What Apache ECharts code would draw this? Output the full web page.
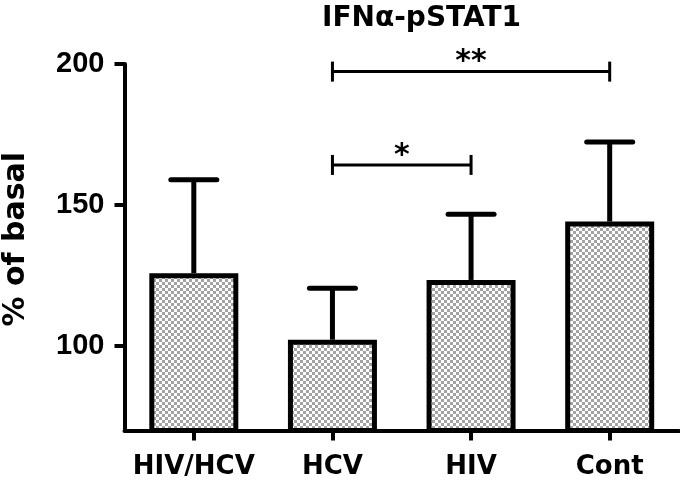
<!DOCTYPE html>
<html>
<head>
<meta charset="utf-8">
<script src="https://cdn.jsdelivr.net/npm/echarts@6/dist/echarts.min.js"></script>
<style>
html,body{margin:0;padding:0;background:#fff;}
#chart{width:680px;height:481px;}
</style>
</head>
<body>
<div id="chart"></div>
<script>
const categories = ['HIV/HCV', 'HCV', 'HIV', 'Cont'];
const means = [125.8, 102.2, 123.4, 144.1];
const upperErr = [158.9, 120.5, 146.7, 172.3];
const yTickValues = [100, 150, 200];
const sigFrom = [1, 1];
const sigTo = [3, 2];
const sigLevels = [197.3, 164.2];
const sigLabels = ['**', '*'];

// checkerboard pattern
const pat = document.createElement('canvas');
pat.width = 6; pat.height = 6;
const pc = pat.getContext('2d');
pc.fillStyle = '#ffffff'; pc.fillRect(0, 0, 6, 6);
pc.fillStyle = '#a3a3a3'; pc.fillRect(0, 0, 3, 3); pc.fillRect(3, 3, 3, 3);

const wideFont = '"DejaVu Sans", Arial, sans-serif';
const armFont = '"Liberation Sans", Arial, sans-serif';

const chart = echarts.init(document.getElementById('chart'), null, {renderer: 'canvas'});
chart.setOption({
  animation: false,
  backgroundColor: '#fff',
  title: {
    text: 'IFNα-pSTAT1',
    left: 317, top: 0,
    textStyle: {fontFamily: wideFont, fontWeight: 'bold', fontSize: 28, color: '#000'}
  },
  grid: {left: 124.5, right: 1, top: 64, bottom: 50.5, containLabel: false, outerBoundsMode: 'none'},
  xAxis: {
    type: 'category',
    data: categories,
    axisLine: {show: true, lineStyle: {color: '#000', width: 4}},
    axisTick: {show: true, alignWithLabel: true, interval: 0, length: 10, lineStyle: {color: '#000', width: 4}},
    axisLabel: {interval: 0, hideOverlap: false, margin: 24, color: '#000', fontFamily: wideFont, fontWeight: 'bold', fontSize: 26},
    splitLine: {show: false}
  },
  yAxis: {
    type: 'value',
    min: 70, max: 200, interval: 10,
    name: '% of basal',
    nameLocation: 'middle',
    nameGap: 93,
    nameRotate: 90,
    nameTextStyle: {color: '#000', fontFamily: wideFont, fontWeight: 'bold', fontSize: 30, padding: [0, 0, 0, 16]},
    axisLine: {show: true, lineStyle: {color: '#000', width: 4}},
    axisTick: {show: true, length: 10, customValues: yTickValues, lineStyle: {color: '#000', width: 4}},
    axisLabel: {margin: 20, customValues: yTickValues, color: '#000', fontFamily: armFont, fontWeight: 'bold', fontSize: 29},
    splitLine: {show: false}
  },
  series: [
    {
      type: 'bar',
      data: means,
      barWidth: 89,
      itemStyle: {color: {image: pat, repeat: 'repeat'}, borderColor: '#000', borderWidth: 5},
      z: 2
    },
    {
      type: 'custom',
      z: 3,
      data: categories.map((c, i) => [i, means[i], upperErr[i]]),
      encode: {x: 0, y: [1, 2]},
      renderItem: function (params, api) {
        const x = api.value(0);
        const p0 = api.coord([x, api.value(1)]);
        const p1 = api.coord([x, api.value(2)]);
        return {
          type: 'group',
          children: [
            {type: 'line', shape: {x1: p0[0], y1: p0[1], x2: p1[0], y2: p1[1]}, style: {stroke: '#000', lineWidth: 5}},
            {type: 'line', shape: {x1: p1[0] - 23, y1: p1[1], x2: p1[0] + 23, y2: p1[1]}, style: {stroke: '#000', lineWidth: 5, lineCap: 'round'}}
          ]
        };
      }
    },
    {
      type: 'custom',
      z: 4,
      clip: false,
      data: sigFrom.map((f, i) => [f, sigTo[i], sigLevels[i]]),
      encode: {x: [0, 1], y: 2},
      renderItem: function (params, api) {
        const a = api.coord([api.value(0), api.value(2)]);
        const b = api.coord([api.value(1), api.value(2)]);
        const y = a[1];
        const mid = (a[0] + b[0]) / 2;
        return {
          type: 'group',
          children: [
            {type: 'line', shape: {x1: a[0], y1: y, x2: b[0], y2: y}, style: {stroke: '#000', lineWidth: 3}},
            {type: 'line', shape: {x1: a[0], y1: y - 10, x2: a[0], y2: y + 10}, style: {stroke: '#000', lineWidth: 3}},
            {type: 'line', shape: {x1: b[0], y1: y - 10, x2: b[0], y2: y + 10}, style: {stroke: '#000', lineWidth: 3}},
            {type: 'text', x: mid, y: y - 24, style: {text: sigLabels[params.dataIndex], fill: '#000', font: 'bold 30px "DejaVu Sans", Arial, sans-serif', textAlign: 'center', textVerticalAlign: 'top'}}
          ]
        };
      }
    }
  ]
});
</script>
</body>
</html>
